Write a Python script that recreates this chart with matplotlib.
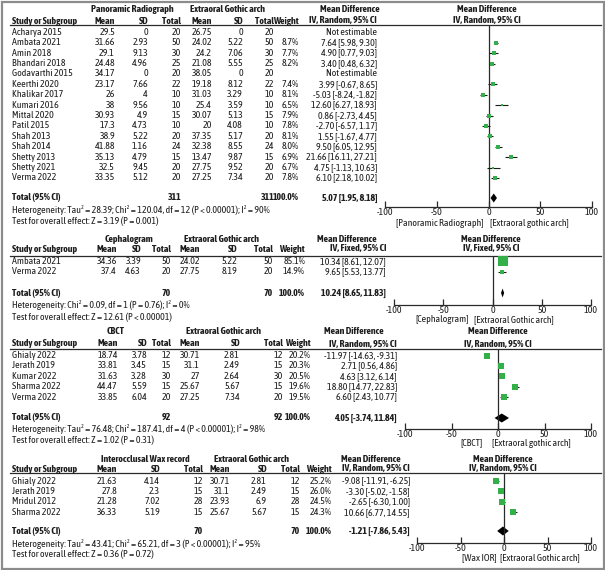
import matplotlib
matplotlib.use('Agg')
import matplotlib.pyplot as plt
from matplotlib.patches import Rectangle
from matplotlib import font_manager as fm

# ---------------- data ----------------
ctrl_name = "Extraoral Gothic arch"
tick_vals = [-100, -50, 0, 50, 100]
tick_labels = ["-100", "-50", "0", "50", "100"]

# Panel 1: Panoramic radiograph
p1_group = "Panoramic Radiograph"
p1_method = "IV, Random, 95% CI"
p1_studies = ["Acharya 2015", "Ambata 2021", "Amin 2018", "Bhandari 2018", "Godavarthi 2015",
              "Keerthi 2020", "Khalikar 2017", "Kumari 2016", "Mittal 2020", "Patil 2015",
              "Shah 2013", "Shah 2014", "Shetty 2013", "Shetty 2021", "Verma 2022"]
p1_mean_a = [29.5, 31.66, 29.1, 24.48, 34.17, 23.17, 26, 38, 30.93, 17.3, 38.9, 41.88, 35.13, 32.5, 33.35]
p1_sd_a = [0, 2.93, 9.13, 4.96, 0, 7.66, 4, 9.56, 4.9, 4.73, 5.22, 1.16, 4.79, 9.45, 5.12]
p1_n_a = [20, 50, 30, 25, 20, 22, 10, 10, 15, 10, 20, 24, 15, 20, 20]
p1_mean_b = [26.75, 24.02, 24.2, 21.08, 38.05, 19.18, 31.03, 25.4, 30.07, 20, 37.35, 32.38, 13.47, 27.75, 27.25]
p1_sd_b = [0, 5.22, 7.06, 5.55, 0, 8.12, 3.29, 3.59, 5.13, 4.08, 5.17, 8.55, 9.87, 9.52, 7.34]
p1_n_b = [20, 50, 30, 25, 20, 22, 10, 10, 15, 10, 20, 24, 15, 20, 20]
p1_weight = [None, 8.7, 7.7, 8.2, None, 7.4, 8.1, 6.5, 7.9, 7.8, 8.1, 8.0, 6.9, 6.7, 7.8]
p1_md = [None, 7.64, 4.90, 3.40, None, 3.99, -5.03, 12.60, 0.86, -2.70, 1.55, 9.50, 21.66, 4.75, 6.10]
p1_lo = [None, 5.98, 0.77, 0.48, None, -0.67, -8.24, 6.27, -2.73, -6.57, -1.67, 6.05, 16.11, -1.13, 2.18]
p1_hi = [None, 9.30, 9.03, 6.32, None, 8.65, -1.82, 18.93, 4.45, 1.17, 4.77, 12.95, 27.21, 10.63, 10.02]
p1_total = [311, 311]
p1_pooled = [5.07, 1.95, 8.18]
p1_het = "Heterogeneity: Tau\u00b2 = 28.39; Chi\u00b2 = 120.04, df = 12 (P < 0.00001); I\u00b2 = 90%"
p1_test = "Test for overall effect: Z = 3.19 (P = 0.001)"
p1_sides = ["[Panoramic Radiograph]", "[Extraoral gothic arch]"]

# Panel 2: Cephalogram
p2_group = "Cephalogram"
p2_method = "IV, Fixed, 95% CI"
p2_studies = ["Ambata 2021", "Verma 2022"]
p2_mean_a = [34.36, 37.4]
p2_sd_a = [3.39, 4.63]
p2_n_a = [50, 20]
p2_mean_b = [24.02, 27.75]
p2_sd_b = [5.22, 8.19]
p2_n_b = [50, 20]
p2_weight = [85.1, 14.9]
p2_md = [10.34, 9.65]
p2_lo = [8.61, 5.53]
p2_hi = [12.07, 13.77]
p2_total = [70, 70]
p2_pooled = [10.24, 8.65, 11.83]
p2_het = "Heterogeneity: Chi\u00b2 = 0.09, df = 1 (P = 0.76); I\u00b2 = 0%"
p2_test = "Test for overall effect: Z = 12.61 (P < 0.00001)"
p2_sides = ["[Cephalogram]", "[Extraoral Gothic arch]"]

# Panel 3: CBCT
p3_group = "CBCT"
p3_method = "IV, Random, 95% CI"
p3_studies = ["Ghialy 2022", "Jerath 2019", "Kumar 2022", "Sharma 2022", "Verma 2022"]
p3_mean_a = [18.74, 33.81, 31.63, 44.47, 33.85]
p3_sd_a = [3.78, 3.45, 3.28, 5.59, 6.04]
p3_n_a = [12, 15, 30, 15, 20]
p3_mean_b = [30.71, 31.1, 27, 25.67, 27.25]
p3_sd_b = [2.81, 2.49, 2.64, 5.67, 7.34]
p3_n_b = [12, 15, 30, 15, 20]
p3_weight = [20.2, 20.3, 20.5, 19.6, 19.5]
p3_md = [-11.97, 2.71, 4.63, 18.80, 6.60]
p3_lo = [-14.63, 0.56, 3.12, 14.77, 2.43]
p3_hi = [-9.31, 4.86, 6.14, 22.83, 10.77]
p3_total = [92, 92]
p3_pooled = [4.05, -3.74, 11.84]
p3_het = "Heterogeneity: Tau\u00b2 = 76.48; Chi\u00b2 = 187.41, df = 4 (P < 0.00001); I\u00b2 = 98%"
p3_test = "Test for overall effect: Z = 1.02 (P = 0.31)"
p3_sides = ["[CBCT]", "[Extraoral gothic arch]"]

# Panel 4: Interocclusal wax record
p4_group = "Interocclusal Wax record"
p4_method = "IV, Random, 95% CI"
p4_studies = ["Ghialy 2022", "Jerath 2019", "Mridul 2012", "Sharma 2022"]
p4_mean_a = [21.63, 27.8, 21.28, 36.33]
p4_sd_a = [4.14, 2.3, 7.02, 5.19]
p4_n_a = [12, 15, 28, 15]
p4_mean_b = [30.71, 31.1, 23.93, 25.67]
p4_sd_b = [2.81, 2.49, 6.9, 5.67]
p4_n_b = [12, 15, 28, 15]
p4_weight = [25.2, 26.0, 24.5, 24.3]
p4_md = [-9.08, -3.30, -2.65, 10.66]
p4_lo = [-11.91, -5.02, -6.30, 6.77]
p4_hi = [-6.25, -1.58, 1.00, 14.55]
p4_total = [70, 70]
p4_pooled = [-1.21, -7.86, 5.43]
p4_het = "Heterogeneity: Tau\u00b2 = 43.41; Chi\u00b2 = 65.21, df = 3 (P < 0.00001); I\u00b2 = 95%"
p4_test = "Test for overall effect: Z = 0.36 (P = 0.72)"
p4_sides = ["[Wax IOR]", "[Extraoral Gothic arch]"]

# ---------------- font choice ----------------
W, H, DPI = 605, 570, 100
WNUM = {'ultralight': 200, 'light': 300, 'normal': 400, 'regular': 400, 'book': 400,
        'medium': 500, 'semibold': 600, 'demibold': 600, 'bold': 700, 'heavy': 800,
        'extra bold': 800, 'black': 900}
weights = {}
for f in fm.fontManager.ttflist:
    w = f.weight if isinstance(f.weight, int) else WNUM.get(str(f.weight).lower(), 400)
    weights.setdefault(f.name, set()).add(w)


def has_bold(n):
    return any(w >= 600 for w in weights.get(n, ()))


cands = ['Liberation Sans Narrow', 'Arial Narrow'] + sorted(
    n for n in weights if ('Narrow' in n or 'Condensed' in n) and 'Mono' not in n and 'Serif' not in n)
FAM = 'Liberation Sans'
for n in cands:
    if n in weights and has_bold(n):
        FAM = n
        break
plt.rcParams['font.family'] = [FAM, 'Liberation Sans', 'DejaVu Sans']
plt.rcParams['axes.unicode_minus'] = False

# calibrate size so that the long heterogeneity line is ~255 px wide (as in the reference)
_f = plt.figure(figsize=(W / DPI, H / DPI), dpi=DPI)
_t = _f.text(0.01, 0.5, p1_het, fontsize=10)
_f.canvas.draw()
_w = _t.get_window_extent().width
plt.close(_f)
FS = 10 * 255.0 / _w

TXT = '#1e1e1e'
GREEN = '#34b04a'

fig = plt.figure(figsize=(W / DPI, H / DPI), dpi=DPI)
fig.patch.set_facecolor('white')
bg = fig.add_axes([0, 0, 1, 1])
bg.set_xlim(0, W)
bg.set_ylim(H, 0)
bg.axis('off')
bg.add_patch(Rectangle((1.5, 1.5), W - 3, H - 3, fill=False, ec='#8c8c8c', lw=1.6))


def t(x, y, s, ha='left', bold=False):
    bg.text(x, y, s, ha=ha, va='center', fontsize=FS,
            fontweight='bold' if bold else 'normal', color=TXT)


def num(v):
    return f"{v:g}"


def draw_panel(L, group, method, studies, ma, sa, na, mb, sb, nb, wt, md, lo, hi,
               total, pooled, het, test, sides):
    # headers
    t(L['ga'], L['grp'], group, 'center', True)
    t(L['gb'], L['grp'], ctrl_name, 'center', True)
    t(L['mdh'], L['grp'], 'Mean Difference', 'center', True)
    t(L['ci'], L['hdr'], method, 'right', True)
    t(L['z'], L['grp'], 'Mean Difference', 'center', True)
    t(L['z'], L['hdr'], method, 'center', True)
    t(12, L['hdr'], 'Study or Subgroup', 'left', True)
    for key, lab in zip(['ma', 'sa', 'na', 'mb', 'sb', 'nb', 'w'],
                        ['Mean', 'SD', 'Total', 'Mean', 'SD', 'Total', 'Weight']):
        t(L[key], L['hdr'], lab, 'right', True)
    bg.plot([10, 601], [L['line'], L['line']], color='#2a2a2a', lw=0.9)

    # forest axes
    ax = fig.add_axes([L['x0'] / W, 1 - L['axis'] / H,
                       (L['x1'] - L['x0']) / W, (L['axis'] - L['line']) / H])
    ax.set_xlim(-100, 100)
    ax.set_ylim(L['axis'], L['line'])
    ax.patch.set_visible(False)
    for s in ['top', 'left', 'right']:
        ax.spines[s].set_visible(False)
    ax.spines['bottom'].set_linewidth(0.9)
    ax.spines['bottom'].set_color('#2a2a2a')
    ax.set_yticks([])
    ax.set_xticks(tick_vals)
    ax.set_xticklabels(tick_labels)
    ax.tick_params(axis='x', direction='in', length=4, width=0.9, pad=1.0,
                   labelsize=FS, colors='#2a2a2a', labelcolor=TXT)
    ax.axvline(0, color='#2a2a2a', lw=0.9)

    rows = L['rows']
    for i, name in enumerate(studies):
        y = rows[i]
        t(12, y, name)
        t(L['ma'], y, num(ma[i]), 'right')
        t(L['sa'], y, num(sa[i]), 'right')
        t(L['na'], y, num(na[i]), 'right')
        t(L['mb'], y, num(mb[i]), 'right')
        t(L['sb'], y, num(sb[i]), 'right')
        t(L['nb'], y, num(nb[i]), 'right')
        if md[i] is None:
            t(L['ci'], y, 'Not estimable', 'right')
            continue
        t(L['w'], y, f"{wt[i]:.1f}%", 'right')
        t(L['ci'], y, f"{md[i]:.2f} [{lo[i]:.2f}, {hi[i]:.2f}]", 'right')
        ax.plot([lo[i], hi[i]], [y, y], color='#1a1a1a', lw=0.8, solid_capstyle='butt')
        size_px = 1.15 * wt[i] ** 0.5
        ax.plot([md[i]], [y], marker='s', ms=size_px * 72 / DPI, color=GREEN,
                mec=GREEN, mew=0, ls='none')

    # total row
    ty = L['tot']
    t(12, ty, 'Total (95% CI)', bold=True)
    t(L['na'], ty, str(total[0]), 'right', True)
    t(L['nb'], ty, str(total[1]), 'right', True)
    t(L['w'], ty, '100.0%', 'right', True)
    t(L['ci'], ty, f"{pooled[0]:.2f} [{pooled[1]:.2f}, {pooled[2]:.2f}]", 'right', True)
    ax.fill([pooled[1], pooled[0], pooled[2], pooled[0]],
            [ty, ty - 4.5, ty, ty + 4.5], color='black', lw=0)
    t(12, L['het'], het)
    t(12, L['test'], test)

    # side labels
    t(L['sl'], L['side'], sides[0], 'right')
    t(L['sr'], L['side'], sides[1], 'left')


L1 = dict(grp=10, hdr=21, line=25, rows=[32.3 + 10.4 * i for i in range(15)], tot=198,
          het=210, test=221, ma=115, sa=148, na=181, mb=212, sb=243, nb=274, w=299, ci=377,
          ga=132, gb=227, mdh=350, z=487, x0=385, x1=592, axis=207, side=223, sl=484, sr=490)
L2 = dict(grp=239, hdr=249, line=256, rows=[261.5, 272], tot=293,
          het=305, test=317, ma=117, sa=141, na=171, mb=200, sb=237, nb=273, w=305, ci=386,
          ga=129, gb=222, mdh=347, z=491, x0=394, x1=591, axis=305, side=320, sl=469, sr=474)
L3 = dict(grp=332, hdr=344, line=349, rows=[355.5 + 10.4 * i for i in range(5)], tot=418,
          het=429, test=440, ma=118, sa=147, na=171, mb=200, sb=240, nb=283, w=311, ci=397,
          ga=116, gb=224, mdh=354, z=498, x0=405, x1=591, axis=429, side=443, sl=483, sr=492)
L4 = dict(grp=459, hdr=469, line=473, rows=[481 + 10.4 * i for i in range(4)], tot=531,
          het=544, test=554, ma=117, sa=160, na=203, mb=230, sb=267, nb=300, w=332, ci=410,
          ga=145, gb=251, mdh=371, z=503, x0=417, x1=591, axis=543, side=558, sl=497, sr=500)

draw_panel(L1, p1_group, p1_method, p1_studies, p1_mean_a, p1_sd_a, p1_n_a, p1_mean_b, p1_sd_b,
           p1_n_b, p1_weight, p1_md, p1_lo, p1_hi, p1_total, p1_pooled, p1_het, p1_test, p1_sides)
draw_panel(L2, p2_group, p2_method, p2_studies, p2_mean_a, p2_sd_a, p2_n_a, p2_mean_b, p2_sd_b,
           p2_n_b, p2_weight, p2_md, p2_lo, p2_hi, p2_total, p2_pooled, p2_het, p2_test, p2_sides)
draw_panel(L3, p3_group, p3_method, p3_studies, p3_mean_a, p3_sd_a, p3_n_a, p3_mean_b, p3_sd_b,
           p3_n_b, p3_weight, p3_md, p3_lo, p3_hi, p3_total, p3_pooled, p3_het, p3_test, p3_sides)
draw_panel(L4, p4_group, p4_method, p4_studies, p4_mean_a, p4_sd_a, p4_n_a, p4_mean_b, p4_sd_b,
           p4_n_b, p4_weight, p4_md, p4_lo, p4_hi, p4_total, p4_pooled, p4_het, p4_test, p4_sides)

fig.savefig('out.png', dpi=DPI, facecolor='white')
